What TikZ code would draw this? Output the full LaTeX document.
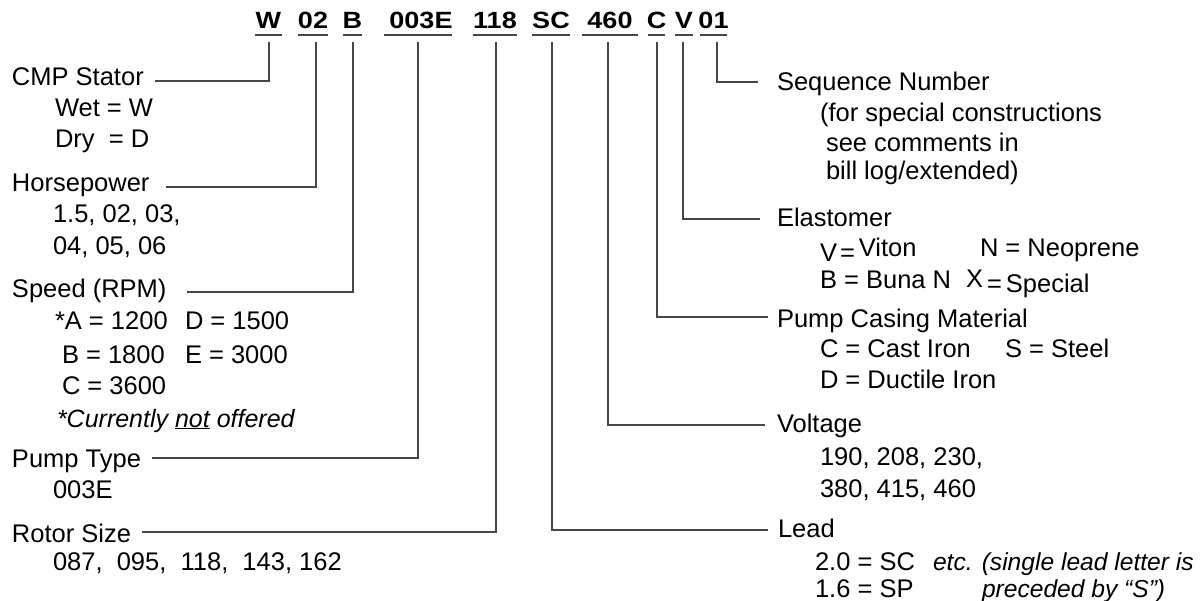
\documentclass[tikz,border=0pt]{standalone}
\usepackage{fontspec}
\setmainfont{Liberation Sans}
\usepackage{graphicx}
\usetikzlibrary{calc}
\newcommand{\hdrtxt}[1]{\scalebox{1.15}[1]{#1}}
\tikzset{
  lab/.style={anchor=base west, inner sep=0pt, outer sep=0pt, font=\fontsize{25.5}{30}\selectfont},
  ilab/.style={lab, font=\fontsize{24.6}{30}\selectfont\itshape},
  hdr/.style={anchor=base, inner sep=0pt, outer sep=0pt, font=\fontsize{23.5}{26}\selectfont\bfseries},
  conn/.style={draw=black!72, line width=1.3pt},
  ul/.style={draw=black!72, line width=1.5pt}
}
\begin{document}
\begin{tikzpicture}[x=1pt,y=-1pt]
\useasboundingbox (0,0) rectangle (1204,601);
\fill[white] (0,0) rectangle (1204,601);

% header codes
\node[hdr] (hW)   at (268.5,29) {\hdrtxt{W}};
\node[hdr] (h02)  at (313,29)   {\hdrtxt{02}};
\node[hdr] (hB)   at (352.5,29) {\hdrtxt{B}};
\node[hdr] (h003E) at (421,29)  {\hdrtxt{003E}};
\node[hdr] (h118) at (495,29)   {\hdrtxt{118}};
\node[hdr] (hSC)  at (551,29)   {\hdrtxt{SC}};
\node[hdr] (h460) at (610,29)   {\hdrtxt{460}};
\node[hdr] (hC)   at (656.5,29) {\hdrtxt{C}};
\node[hdr] (hV)   at (684,29)   {\hdrtxt{V}};
\node[hdr] (h01)  at (713.5,29) {\hdrtxt{01}};

% underlines
\draw[ul] (255,35) -- (282,35);
\draw[ul] (298,35) -- (328,35);
\draw[ul] (343,35) -- (362,35);
\draw[ul] (384,35) -- (452,35);
\draw[ul] (473,35) -- (517,35);
\draw[ul] (532,35) -- (570,35);
\draw[ul] (582,35) -- (638,35);
\draw[ul] (648,35) -- (665,35);
\draw[ul] (675,35) -- (693,35);
\draw[ul] (700,35) -- (727,35);

% tick tops
\coordinate (tW)    at (269,42);
\coordinate (t02)   at (316,42);
\coordinate (tB)    at (353,42);
\coordinate (t003E) at (418,42);
\coordinate (t118)  at (496,42);
\coordinate (tSC)   at (552,42);
\coordinate (t460)  at (608,42);
\coordinate (tC)    at (657,42);
\coordinate (tV)    at (683,42);
\coordinate (t01)   at (717,42);

% left labels
\node[lab] (lCMP) at (12,86)  {CMP Stator};
\node[lab] (lWet) at (55,117) {Wet = W};
\node[lab] (lDry) at (55,148) {Dry\ \ = D};
\node[lab] (lHP)  at (12,192) {Horsepower};
\node[lab] (lHP1) at (53,223) {1.5, 02, 03,};
\node[lab] (lHP2) at (53,255) {04, 05, 06};
\node[lab] (lSpd) at (12,298) {Speed (RPM)};
\node[lab] (lA)   at (55,330) {*A = 1200};
\node[lab] (lD)   at (185,330) {D = 1500};
\node[lab] (lB)   at (62,363) {B = 1800};
\node[lab] (lE)   at (185,363) {E = 3000};
\node[lab] (lC)   at (62,394) {C = 3600};
\node[ilab, font=\fontsize{25}{30}\selectfont\itshape] (lNote) at (57,427) {*Currently \underline{not} offered};
\node[lab] (lPT)  at (12,467) {Pump Type};
\node[lab] (lPT1) at (53,498) {003E};
\node[lab] (lRS)  at (12,542) {Rotor Size};
\node[lab] (lRS1) at (53,570) {087,\ \ 095,\ \ 118,\ \ 143, 162};

% right labels
\node[lab] (lSeq)  at (777,91)  {Sequence Number};
\node[lab] (lSeq1) at (820,122) {(for special constructions};
\node[lab] (lSeq2) at (826,152) {see comments in};
\node[lab] (lSeq3) at (826,180) {bill log/extended)};
\node[lab] (lEla)  at (777,227) {Elastomer};
\node[lab] (lVi)   at (820,257) {\raisebox{-5pt}{V\kern3pt=}\kern4pt Viton};
\node[lab] (lN)    at (980,257) {N = Neoprene};
\node[lab] (lBu)   at (820,289) {B = Buna N};
\node[lab] (lX)    at (966,293) {\raisebox{5pt}{X}\kern4pt=\kern4pt Special};
\node[lab] (lPCM)  at (777,328) {Pump Casing Material};
\node[lab] (lCI)   at (820,357) {C = Cast Iron};
\node[lab] (lS)    at (1005,357) {S = Steel};
\node[lab] (lDI)   at (820,388) {D = Ductile Iron};
\node[lab] (lVol)  at (777,432) {Voltage};
\node[lab] (lVol1) at (820,465) {190, 208, 230,};
\node[lab] (lVol2) at (820,497) {380, 415, 460};
\node[lab] (lLead) at (778,537) {Lead};
\node[lab] (lL1)   at (815,570) {2.0 = SC};
\node[ilab] (lL1n) at (933,570) {etc. (single lead letter is};
\node[lab] (lL2)   at (815,597) {1.6 = SP};
\node[ilab] (lL2n) at (982,597) {preceded by “S”)};

% connector ends
\coordinate (eCMP)  at ($(lCMP.base west)+(143,-5)$);
\coordinate (eHP)   at ($(lHP.base west)+(154,-5)$);
\coordinate (eSpd)  at ($(lSpd.base west)+(175,-6)$);
\coordinate (ePT)   at ($(lPT.base west)+(140,-9)$);
\coordinate (eRS)   at ($(lRS.base west)+(130,-10)$);
\coordinate (eSeq)  at ($(lSeq.base west)+(-19,-9)$);
\coordinate (eEla)  at ($(lEla.base west)+(-17,-8)$);
\coordinate (ePCM)  at ($(lPCM.base west)+(-9,-11)$);
\coordinate (eVol)  at ($(lVol.base west)+(-12,-7)$);
\coordinate (eLead) at ($(lLead.base west)+(-10,-7)$);

% connectors
\draw[conn] (tW) |- (eCMP);
\draw[conn] (t02) |- (eHP);
\draw[conn] (tB) |- (eSpd);
\draw[conn] (t003E) |- (ePT);
\draw[conn] (t118) |- (eRS);
\draw[conn] (t01) |- (eSeq);
\draw[conn] (tV) |- (eEla);
\draw[conn] (tC) |- (ePCM);
\draw[conn] (t460) |- (eVol);
\draw[conn] (tSC) |- (eLead);
\end{tikzpicture}
\end{document}
